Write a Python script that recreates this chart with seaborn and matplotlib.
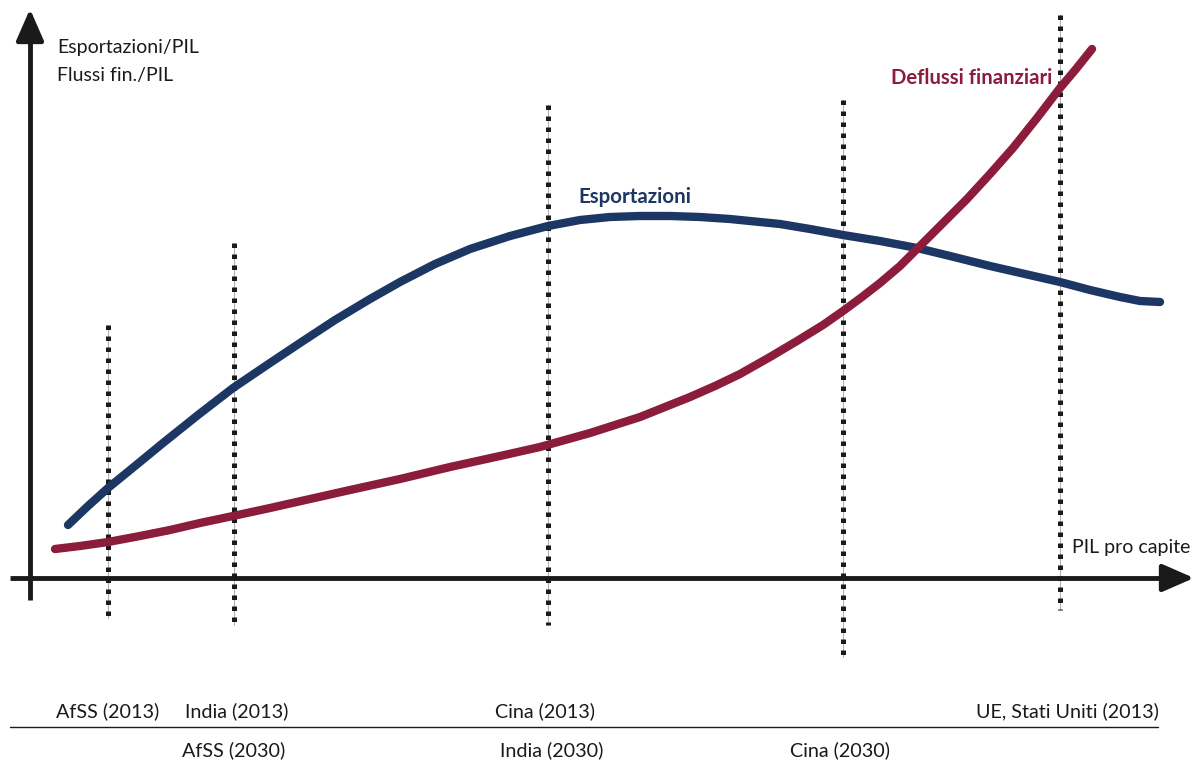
import matplotlib
matplotlib.use("Agg")
import matplotlib.pyplot as plt
import seaborn as sns
import pandas as pd

sns.set_theme(style="white")
plt.rcParams['font.family'] = ['Lato', 'DejaVu Sans']

# Curves (horizontal position = GDP per capita scale, vertical = ratio scale, page units)
exp_x = [68, 88, 108, 135, 163, 198, 233, 270, 300, 335, 370, 400, 435, 470, 510, 548, 580, 610,
         640, 670, 700, 730, 760, 780, 810, 843, 880, 917, 950, 990, 1025, 1060, 1090, 1120, 1140, 1160]
exp_y = [525, 506, 488, 466, 443, 415, 388, 363, 343, 320, 299, 282, 264, 249, 236, 226, 220, 217,
         216, 216, 217, 219, 222, 224, 229, 235, 241, 248, 256, 266, 274, 282, 290, 297, 301, 302]
fin_x = [55, 80, 108, 140, 170, 200, 233, 270, 310, 350, 400, 450, 500, 540, 590, 640, 690, 715, 740,
         770, 797, 823, 843, 862, 880, 900, 917, 940, 967, 990, 1013, 1037, 1060, 1076, 1092]
fin_y = [549, 546, 542, 536, 530, 523, 516, 508, 499, 490, 479, 467, 456, 447, 433, 417, 397, 386, 374,
         357, 341, 325, 311, 297, 283, 266, 249, 226, 199, 174, 148, 118, 88, 69, 49]

# Reference lines: position, top, bottom
ref_x = [108, 234, 548, 843, 1060]
ref_top = [325, 243, 105, 100, 15]
ref_bot = [618, 625, 625, 657, 610]

row1_labels = ["AfSS (2013)", "India (2013)", "Cina (2013)", "UE, Stati Uniti (2013)"]
row1_x = [108, 237, 545, 1067]
row2_labels = ["AfSS (2030)", "India (2030)", "Cina (2030)"]
row2_x = [234, 552, 840]

BLUE = "#1c3764"
RED = "#8c1c3b"
INK = "#1a1a1a"

fig = plt.figure(figsize=(11.95, 7.63), dpi=100)
ax = fig.add_axes([0, 0, 1, 1])

# dotted reference lines
for x, t, b in zip(ref_x, ref_top, ref_bot):
    ax.plot([x, x], [t, b], color="#b0b0b0", lw=0.8, zorder=1)
    ax.plot([x, x], [t, b], color=INK, lw=3.6, linestyle=(0, (0.9, 1.3)),
            dash_capstyle="butt", zorder=2)

# curves
df_exp = pd.DataFrame({"x": exp_x, "y": exp_y})
df_fin = pd.DataFrame({"x": fin_x, "y": fin_y})
sns.lineplot(data=df_exp, x="x", y="y", ax=ax, color=BLUE, lw=6.0, sort=False,
             solid_capstyle="round", solid_joinstyle="round", zorder=4)
sns.lineplot(data=df_fin, x="x", y="y", ax=ax, color=RED, lw=6.0, sort=False,
             solid_capstyle="round", solid_joinstyle="round", zorder=5)

ax.set_xlim(0, 1195)
ax.set_ylim(763, 0)
ax.axis("off")

# axes arrows
ax.plot([30, 30], [600, 30], color=INK, lw=3.5, solid_capstyle="butt", zorder=3)
ax.annotate("", xy=(30, 9), xytext=(30, 40),
            arrowprops=dict(arrowstyle="-|>,head_length=1.6,head_width=0.7", color=INK, lw=3.5,
                            shrinkA=0, shrinkB=0), zorder=3, annotation_clip=False)
ax.plot([10, 1175], [578, 578], color=INK, lw=3.5, solid_capstyle="butt", zorder=3)
ax.annotate("", xy=(1194, 578), xytext=(1165, 578),
            arrowprops=dict(arrowstyle="-|>,head_length=1.6,head_width=0.7", color=INK, lw=3.5,
                            shrinkA=0, shrinkB=0), zorder=3, annotation_clip=False)

# texts
ax.text(57, 48, "Esportazioni/PIL", fontsize=14, color=INK, va="center", ha="left")
ax.text(57, 76, "Flussi fin./PIL", fontsize=14, color=INK, va="center", ha="left")
ax.text(1190, 547, "PIL pro capite", fontsize=14, color=INK, va="center", ha="right")
ax.text(578, 197, "Esportazioni", fontsize=14.8, color=BLUE, fontweight="bold", va="center", ha="left")
ax.text(1052, 78, "Deflussi finanziari", fontsize=14.6, color=RED, fontweight="bold", va="center", ha="right")

for lab, x in zip(row1_labels, row1_x):
    ax.text(x, 711, lab, fontsize=14.2, color=INK, va="center", ha="center")
for lab, x in zip(row2_labels, row2_x):
    ax.text(x, 750, lab, fontsize=14.2, color=INK, va="center", ha="center")
ax.plot([10, 1158], [727, 727], color=INK, lw=1.0)

fig.savefig("out.png", dpi=100, facecolor="white")
